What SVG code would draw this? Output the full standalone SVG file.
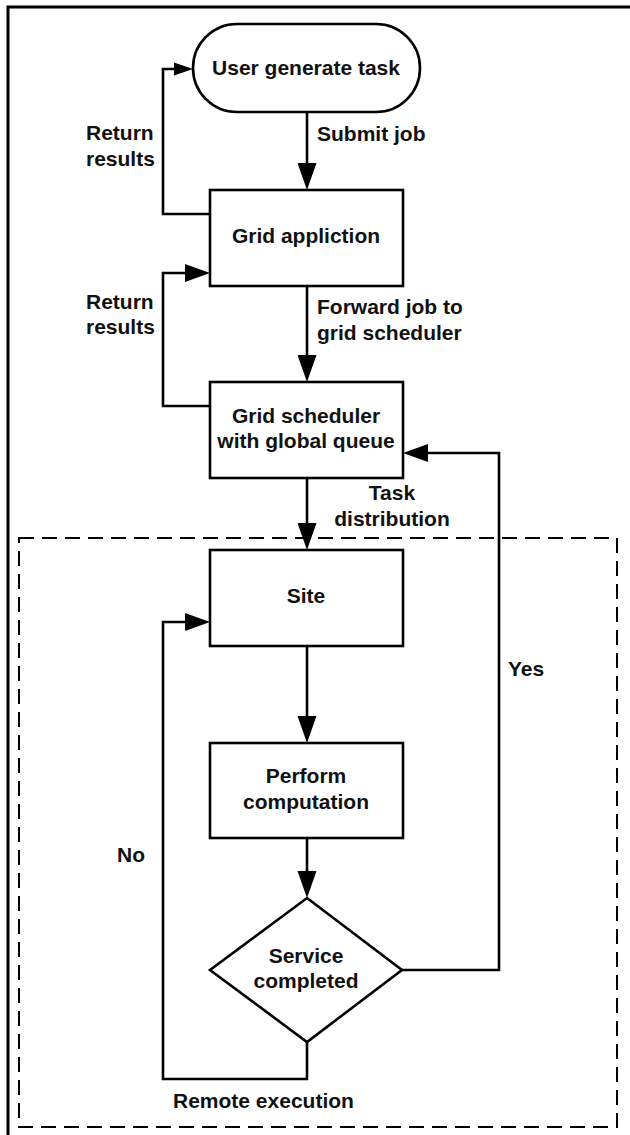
<svg xmlns="http://www.w3.org/2000/svg" width="630" height="1135" viewBox="0 0 630 1135">
<defs>
<style>
.node{fill:#fff;stroke:#000;stroke-width:2.6}
.line{fill:none;stroke:#000;stroke-width:2.6}
.head{fill:#000;stroke:none}
text{font-family:"Liberation Sans",Arial,sans-serif;font-weight:bold;font-size:21px;fill:#111}
.c{text-anchor:middle}
</style>
</defs>
<rect x="0" y="0" width="630" height="1135" fill="#fff"/>
<path d="M8,1140 V7 H640" fill="none" stroke="#000" stroke-width="3"/>
<rect id="site-boundary" x="19" y="538" width="598" height="589" fill="none" stroke="#000" stroke-width="2" stroke-dasharray="15,8"/>
<g id="connectors">
<path class="line" d="M307,112 V168"/>
<path class="head" d="M297.5,163 L316.5,163 L307,190 Z"/>
<path class="line" d="M210,214 H163 V69 H178"/>
<path class="head" d="M174,62.5 L193,69 L174,75.5 Z"/>
<path class="line" d="M307,286 V360"/>
<path class="head" d="M297.5,355 L316.5,355 L307,382 Z"/>
<path class="line" d="M210,406 H163 V273 H190"/>
<path class="head" d="M185,264 L210,273 L185,282 Z"/>
<path class="line" d="M307,478 V528"/>
<path class="head" d="M297.5,523 L316.5,523 L307,550 Z"/>
<path class="line" d="M307,646 V721"/>
<path class="head" d="M297.5,716 L316.5,716 L307,743 Z"/>
<path class="line" d="M307,838 V876"/>
<path class="head" d="M297.5,871 L316.5,871 L307,898 Z"/>
<path class="line" d="M402,970 H499 V453 H423"/>
<path class="head" d="M428,444 L403,453 L428,462 Z"/>
<path class="line" d="M307,1042 V1079 H163 V622 H190"/>
<path class="head" d="M185,613 L210,622 L185,631 Z"/>
</g>
<g id="user-task">
<rect class="node" x="193" y="24" width="227" height="88" rx="44" ry="44"/>
<text class="c" x="306" y="75">User generate task</text>
</g>
<g id="grid-application">
<rect class="node" x="210" y="190" width="193" height="96"/>
<text class="c" x="306" y="243">Grid appliction</text>
</g>
<g id="grid-scheduler">
<rect class="node" x="210" y="382" width="193" height="96"/>
<text class="c" x="306" y="423">Grid scheduler</text>
<text class="c" x="306" y="448">with global queue</text>
</g>
<g id="site">
<rect class="node" x="210" y="550" width="193" height="96"/>
<text class="c" x="306" y="603">Site</text>
</g>
<g id="perform-computation">
<rect class="node" x="210" y="743" width="193" height="95"/>
<text class="c" x="306" y="783">Perform</text>
<text class="c" x="306" y="809">computation</text>
</g>
<g id="service-completed">
<polygon class="node" points="307,898 402,970 307,1042 210,970"/>
<text class="c" x="306" y="963">Service</text>
<text class="c" x="306" y="988">completed</text>
</g>
<g id="labels">
<text x="317" y="141">Submit job</text>
<text x="86" y="140">Return</text>
<text x="86" y="166">results</text>
<text x="86" y="309">Return</text>
<text x="86" y="334">results</text>
<text x="317" y="314">Forward job to</text>
<text x="317" y="340">grid scheduler</text>
<text class="c" x="392" y="500">Task</text>
<text class="c" x="392" y="526">distribution</text>
<text x="508" y="676">Yes</text>
<text x="117" y="862">No</text>
<text x="173" y="1108">Remote execution</text>
</g>
</svg>
